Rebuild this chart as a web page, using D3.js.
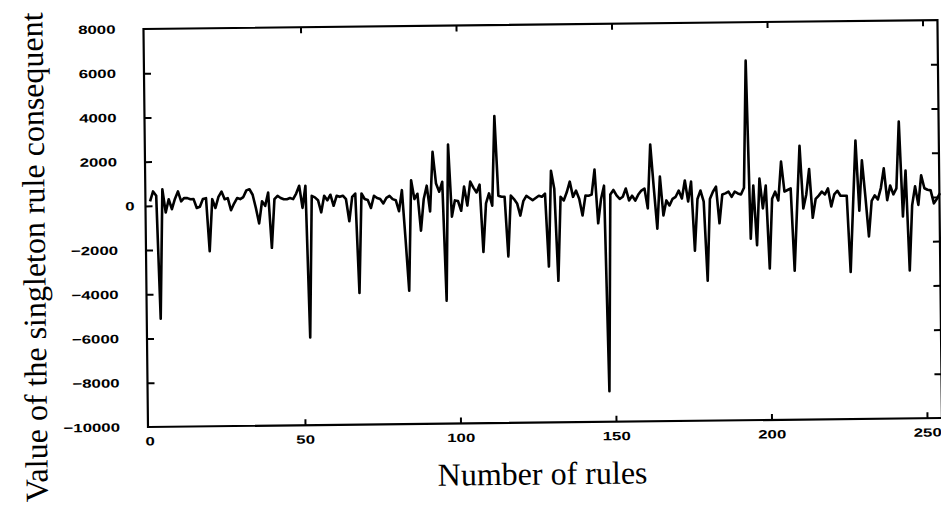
<!DOCTYPE html>
<html><head><meta charset="utf-8">
<script src="https://cdn.jsdelivr.net/npm/d3@7"></script>
<style>body{margin:0;background:#fff}svg{display:block}</style>
</head><body><svg id="c" width="941" height="510"></svg>
<script>
// Singleton rule consequent value for rules 1..255
const consequentValues = [
  200, 650, 450, -5110, 740, -310, 290, -160, 300, 640,
  190, 340, 330, 280, 280, -120, -70, 280, 320, -2080,
  270, -130, 370, 610, 260, 310, -240, 60, 310, 260,
  350, 650, 700, 450, -150, -850, 150, -60, 540, -1960,
  240, 390, 290, 230, 230, 280, 230, 480, 830, -170,
  830, -6030, 370, 300, 170, -380, 370, 160, 410, -90,
  360, 310, 360, 200, -800, 300, 450, -4050, 450, 200,
  150, -210, 340, 240, 190, -10, 240, 330, 180, 130,
  -370, 580, -1620, -3970, 1020, 170, 410, -1260, 170, 770,
  -400, 2300, 860, 490, 940, -4440, 2620, -640, 90, 60,
  -380, 710, -150, 930, 660, 440, 790, -2260, -60, 390,
  -170, 3880, 280, 230, 230, -2470, 280, 120, -80, -630,
  20, 260, 160, 60, 160, 260, 210, 350, -2950, 1380,
  570, -3600, 200, 30, 400, 880, 190, 470, 90, -660,
  240, 230, 280, 1410, -1020, 80, 680, -8620, 280, 480,
  230, 70, 170, 540, 0, 210, -10, 260, 440, 530,
  -370, 2520, 550, -1290, 1060, -700, -20, -250, 50, 140,
  420, 60, 870, -80, 820, -2310, 30, 410, -90, -3670,
  20, 350, 580, -1080, 220, 270, 350, 110, 340, 260,
  210, 510, 6260, -1790, 610, -2090, 920, -430, 600, -3150,
  0, 320, -80, 1680, 320, 390, 460, -3260, -400, 2380,
  -450, 180, 1330, -880, -30, 120, 300, 170, 440, -380,
  170, 330, 100, 100, 100, -3350, -350, 2590, -580, 1690,
  50, -1750, -150, 100, -80, 430, 1320, -120, 540, 140,
  410, 3430, -870, 1210, -3310, -370, 490, -350, 990, 400,
  330, 300, -290, -80, 170
];
const xTickValues = [0, 50, 100, 150, 200, 250];
const xFrameTicks = [50, 100, 150, 200, 250];
const yTickValues = [8000, 6000, 4000, 2000, 0, -2000, -4000, -6000, -8000, -10000];
const yInnerTicks = [6000, 4000, 2000, 0, -2000, -4000, -6000, -8000];
const xDomain = [0, 255];
const yDomain = [-10000, 8000];
const xTitle = "Number of rules";
const yTitle = "Value of the singleton rule consequent";

const svg = d3.select("#c");
const ox = 148, oy = 427, W = 794, H = 398;
const root = svg.append("g").attr("transform", `rotate(-0.65,${ox},${oy})`);
const plot = root.append("g").attr("transform", `translate(${ox},${oy - H})`);

const x = d3.scaleLinear().domain(xDomain).range([1.5, 794.6]);
const y = d3.scaleLinear().domain(yDomain).range([H, 0]);

const tickFont = g => g.selectAll("text")
  .attr("font-family", "'Liberation Sans', Arial, sans-serif")
  .attr("font-weight", "bold")
  .attr("font-size", 12)
  .attr("fill", "#000");

// left axis
const gl = plot.append("g")
  .call(d3.axisLeft(y).tickValues(yTickValues).tickSizeInner(-7).tickSizeOuter(0).tickPadding(28).tickFormat(d3.format("d")));
gl.select(".domain").remove();
gl.selectAll(".tick line").attr("stroke", "#000").attr("stroke-width", 2)
  .attr("display", d => yInnerTicks.includes(d) ? null : "none");
tickFont(gl);
gl.selectAll(".tick text").attr("x", d => d === 0 ? -11 : -28);

// right axis
const gr = plot.append("g").attr("transform", `translate(${W},0)`)
  .call(d3.axisRight(y).tickValues(yInnerTicks).tickSizeInner(-7).tickSizeOuter(0).tickFormat(""));
gr.select(".domain").remove();
gr.selectAll(".tick line").attr("stroke", "#000").attr("stroke-width", 2);

// bottom axis
const gb = plot.append("g").attr("transform", `translate(0,${H})`)
  .call(d3.axisBottom(x).tickValues(xTickValues).tickSizeInner(-6).tickSizeOuter(0).tickPadding(10).tickFormat(d3.format("d")));
gb.select(".domain").remove();
gb.selectAll(".tick line").attr("stroke", "#000").attr("stroke-width", 2)
  .attr("display", d => xFrameTicks.includes(d) ? null : "none");
tickFont(gb);

// top axis
const gt = plot.append("g")
  .call(d3.axisTop(x).tickValues(xFrameTicks).tickSizeInner(-6).tickSizeOuter(0).tickFormat(""));
gt.select(".domain").remove();
gt.selectAll(".tick line").attr("stroke", "#000").attr("stroke-width", 2);

// stretch tick labels horizontally (wide bold digits as in the reference)
plot.selectAll(".tick text").each(function () {
  const len = this.getComputedTextLength();
  if (len > 0) d3.select(this).attr("textLength", len * 1.4).attr("lengthAdjust", "spacingAndGlyphs");
});

// frame
plot.append("rect").attr("x", 0).attr("y", 0).attr("width", W).attr("height", H)
  .attr("fill", "none").attr("stroke", "#000").attr("stroke-width", 2.2);

// data line (rules numbered from 1)
const line = d3.line().x((d, i) => x(i + 1)).y(d => y(d));
plot.append("path").datum(consequentValues)
  .attr("d", line).attr("fill", "none").attr("stroke", "#000")
  .attr("stroke-width", 2.6).attr("stroke-linejoin", "round");

// titles
root.append("text").attr("x", 542).attr("y", 489)
  .attr("text-anchor", "middle")
  .attr("font-family", "'Liberation Serif', 'Times New Roman', serif")
  .attr("font-size", 32).attr("fill", "#000").text(xTitle);

root.append("text")
  .attr("transform", "translate(47,256) rotate(-90)")
  .attr("text-anchor", "middle")
  .attr("font-family", "'Liberation Serif', 'Times New Roman', serif")
  .attr("font-size", 32).attr("fill", "#000").text(yTitle);
</script>
</body></html>
